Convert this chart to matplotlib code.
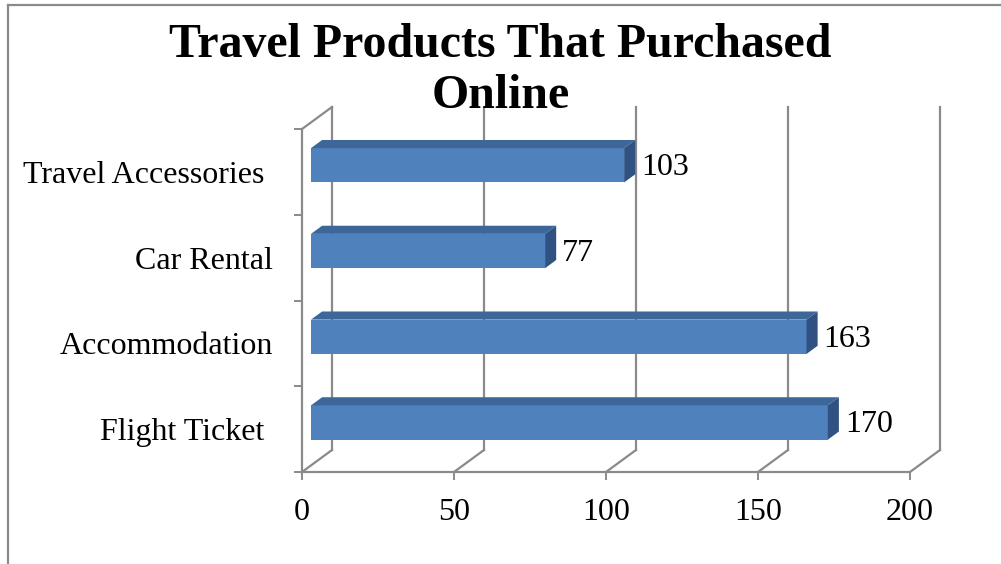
import matplotlib
matplotlib.use("Agg")
import matplotlib.pyplot as plt
from matplotlib.patches import Polygon
from matplotlib.lines import Line2D
from matplotlib.transforms import ScaledTranslation, IdentityTransform
import numpy as np

# Data
categories = ["Flight Ticket ", "Accommodation", "Car Rental", "Travel Accessories "]
values = [170, 163, 77, 103]
x_ticks = [0, 50, 100, 150, 200]
title = "Travel Products That Purchased\nOnline"

# Style
FONT = "Liberation Serif"
FRONT = "#4F81BD"
TOP = "#3D6798"
SIDE = "#2F5282"
GRID = "#8A8A8A"
DPI = 100
DX, DY = 30.0, 22.0          # depth of the chart box in pixels (x right, y up)
BAR_D0, BAR_D1 = 0.30, 0.67  # bar depth span as fraction of box depth
BAR_H = 0.4
FS = 23

fig = plt.figure(figsize=(10.01, 5.64), dpi=DPI)
fig.patch.set_facecolor("white")

W, H = 1001, 564
ax = fig.add_axes([302 / W, 1 - 472 / H, 608 / W, 343 / H])
ax.set_xlim(x_ticks[0], x_ticks[-1])
ax.set_ylim(-0.5, len(categories) - 0.5)
ax.set_facecolor("none")
for s in ("top", "right"):
    ax.spines[s].set_visible(False)
for s in ("left", "bottom"):
    ax.spines[s].set_color(GRID)
    ax.spines[s].set_linewidth(1.6)
    ax.spines[s].set_zorder(1)


def depth_tf(d):
    return ax.transData + ScaledTranslation(d * DX / DPI, d * DY / DPI, fig.dpi_scale_trans)


def proj(x, y, d):
    px, py = ax.transData.transform((x, y))
    return (px + d * DX, py + d * DY)


# axis ticks
ax.set_xticks(x_ticks)
ax.set_xticklabels([str(t) for t in x_ticks], fontfamily=FONT, fontsize=FS)
ax.tick_params(axis="x", direction="out", length=5.8, width=1.4, color=GRID, pad=13)

cat_pos = np.arange(len(categories))
ax.set_yticks(np.append(cat_pos - 0.5, len(categories) - 0.5))
ax.set_yticklabels([])
ax.set_yticks(cat_pos, minor=True)
ax.set_yticklabels(categories, minor=True, fontfamily=FONT, fontsize=FS)
ax.tick_params(axis="y", which="major", direction="out", length=5.8, width=1.4, color=GRID)
ax.tick_params(axis="y", which="minor", length=0, pad=21)

# back wall gridlines and floor diagonals
y0, y1 = ax.get_ylim()
for t in x_ticks:
    ax.plot([t, t], [y0, y1], color=GRID, lw=1.6, transform=depth_tf(1.0),
            clip_on=False, zorder=1)
    a = proj(t, y0, 0.0)
    b = proj(t, y0, 1.0)
    ax.add_line(Line2D([a[0], b[0]], [a[1], b[1]], color=GRID, lw=1.6,
                       transform=IdentityTransform(), clip_on=False, zorder=1))
# left wall top edge
a = proj(0, y1, 0.0)
b = proj(0, y1, 1.0)
ax.add_line(Line2D([a[0], b[0]], [a[1], b[1]], color=GRID, lw=1.6,
                   transform=IdentityTransform(), clip_on=False, zorder=1))

# bars: front face, top face and right face
bars = ax.barh(cat_pos, values, height=BAR_H, color=FRONT, zorder=3)
for bar in bars:
    bar.set_transform(depth_tf(BAR_D0))
    bar.set_clip_on(False)

for c, v in zip(cat_pos, values):
    top_y = c + BAR_H / 2
    bot_y = c - BAR_H / 2
    top = [proj(0, top_y, BAR_D0), proj(v, top_y, BAR_D0),
           proj(v, top_y, BAR_D1), proj(0, top_y, BAR_D1)]
    side = [proj(v, bot_y, BAR_D0), proj(v, top_y, BAR_D0),
            proj(v, top_y, BAR_D1), proj(v, bot_y, BAR_D1)]
    ax.add_patch(Polygon(top, closed=True, facecolor=TOP, edgecolor="none",
                         transform=IdentityTransform(), clip_on=False, zorder=3))
    ax.add_patch(Polygon(side, closed=True, facecolor=SIDE, edgecolor="none",
                         transform=IdentityTransform(), clip_on=False, zorder=3))
    ax.annotate(str(v), xy=(v, c), xytext=(18.7, 3.0), textcoords="offset points",
                ha="left", va="center", fontfamily=FONT, fontsize=FS,
                color="black", annotation_clip=False, zorder=4)

# title (baseline of the last line)
fig.text(0.5, 1 - 108 / H, title, ha="center", va="baseline", fontfamily=FONT,
         fontweight="bold", fontsize=34.5, linespacing=1.2)

# chart area border (top and left edges)
fig.add_artist(Line2D([7.5 / W, 1.0], [1 - 4.5 / H, 1 - 4.5 / H], color=GRID,
                      lw=1.6, transform=fig.transFigure))
fig.add_artist(Line2D([7.5 / W, 7.5 / W], [0.0, 1 - 4.5 / H], color=GRID,
                      lw=1.6, transform=fig.transFigure))

fig.savefig("out.png", dpi=DPI, facecolor="white")
